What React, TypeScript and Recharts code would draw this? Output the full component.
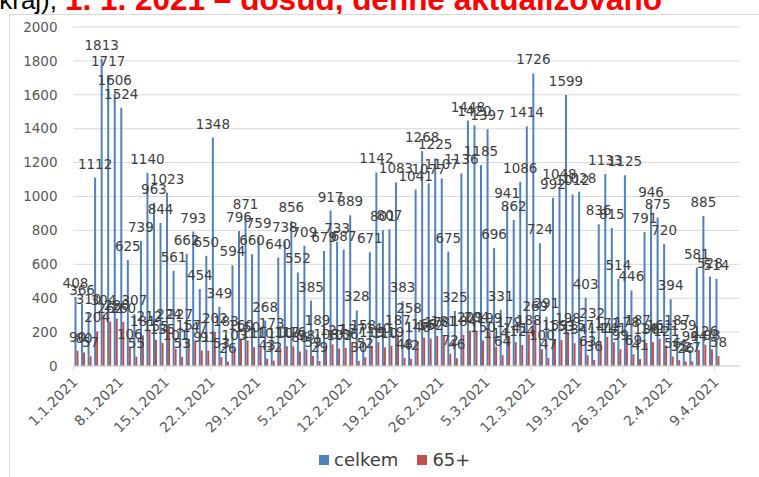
import React from 'react';
import { BarChart, Bar, XAxis, YAxis, CartesianGrid, LabelList, Legend } from 'recharts';

const dates = [
  '1.1.2021','2.1.2021','3.1.2021','4.1.2021','5.1.2021','6.1.2021','7.1.2021','8.1.2021','9.1.2021','10.1.2021',
  '11.1.2021','12.1.2021','13.1.2021','14.1.2021','15.1.2021','16.1.2021','17.1.2021','18.1.2021','19.1.2021','20.1.2021',
  '21.1.2021','22.1.2021','23.1.2021','24.1.2021','25.1.2021','26.1.2021','27.1.2021','28.1.2021','29.1.2021','30.1.2021',
  '31.1.2021','1.2.2021','2.2.2021','3.2.2021','4.2.2021','5.2.2021','6.2.2021','7.2.2021','8.2.2021','9.2.2021',
  '10.2.2021','11.2.2021','12.2.2021','13.2.2021','14.2.2021','15.2.2021','16.2.2021','17.2.2021','18.2.2021','19.2.2021',
  '20.2.2021','21.2.2021','22.2.2021','23.2.2021','24.2.2021','25.2.2021','26.2.2021','27.2.2021','28.2.2021','1.3.2021',
  '2.3.2021','3.3.2021','4.3.2021','5.3.2021','6.3.2021','7.3.2021','8.3.2021','9.3.2021','10.3.2021','11.3.2021',
  '12.3.2021','13.3.2021','14.3.2021','15.3.2021','16.3.2021','17.3.2021','18.3.2021','19.3.2021','20.3.2021','21.3.2021',
  '22.3.2021','23.3.2021','24.3.2021','25.3.2021','26.3.2021','27.3.2021','28.3.2021','29.3.2021','30.3.2021','31.3.2021',
  '1.4.2021','2.4.2021','3.4.2021','4.4.2021','5.4.2021','6.4.2021','7.4.2021','8.4.2021','9.4.2021',
];

const celkem = [
  408, 366, 310, 1112, 1813, 1717, 1606, 1524, 625, 307,
  739, 1140, 963, 844, 1023, 561, 227, 662, 793, 454,
  650, 1348, 349, 183, 594, 796, 871, 660, 759, 268,
  173, 640, 738, 856, 552, 709, 385, 189, 679, 917,
  733, 687, 889, 328, 158, 671, 1142, 801, 807, 1083,
  383, 258, 1041, 1268, 1077, 1225, 1107, 675, 325, 1136,
  1448, 1420, 1185, 1397, 696, 331, 941, 862, 1086, 1414,
  1726, 724, 291, 992, 1048, 1599, 1012, 1028, 403, 232,
  836, 1133, 815, 514, 1125, 446, 187, 791, 946, 875,
  720, 394, 187, 159, 94, 581, 885, 528, 514,
];

const senior = [
  90, 80, 57, 204, 304, 262, 280, 260, 106, 55,
  181, 212, 155, 135, 224, 101, 53, 157, 147, 91,
  91, 202, 53, 26, 103, 160, 150, 111, 110, 43,
  32, 110, 117, 116, 86, 98, 59, 29, 108, 127,
  103, 106, 137, 30, 52, 119, 140, 110, 119, 187,
  48, 42, 146, 168, 162, 178, 181, 72, 46, 184,
  209, 204, 150, 199, 114, 64, 179, 141, 124, 188,
  269, 100, 47, 159, 153, 198, 134, 157, 63, 36,
  141, 171, 141, 99, 178, 69, 41, 136, 141, 161,
  121, 56, 35, 26, 27, 94, 126, 98, 58,
];

const yTicks = [0, 200, 400, 600, 800, 1000, 1200, 1400, 1600, 1800, 2000];

const data = dates.map((d, i) => ({ date: d, celkem: celkem[i], senior: senior[i] }));

const BLUE = '#4F81BD';
const RED = '#C0504D';
const FONT = 'DejaVu Sans';

const DateTick = (props: any) => {
  const { x, y, payload } = props;
  return (
    <g transform={`translate(${x - 3.3},${y})`}>
      <line x1={0} x2={0} y1={0} y2={5} stroke="#d9d9d9" />
      <text
        x={0}
        y={0}
        transform="translate(5,17) rotate(-45)"
        textAnchor="end"
        fill="#595959"
        fontSize={14}
        fontFamily={FONT}
      >
        {payload.value}
      </text>
    </g>
  );
};

const LegendContent = () => (
  <div
    style={{
      display: 'flex',
      alignItems: 'center',
      fontFamily: FONT,
      fontSize: 18,
      color: '#404040',
      whiteSpace: 'nowrap',
    }}
  >
    <span style={{ display: 'inline-block', width: 10, height: 10, background: BLUE, marginRight: 5 }} />
    <span>celkem</span>
    <span style={{ display: 'inline-block', width: 10, height: 10, background: RED, marginLeft: 19, marginRight: 5 }} />
    <span>65+</span>
  </div>
);

export default function App() {
  return (
    <div
      style={{
        position: 'absolute',
        left: 0,
        top: 0,
        width: 759,
        height: 477,
        overflow: 'hidden',
        background: '#ffffff',
        fontFamily: FONT,
      }}
    >
      <div
        style={{
          position: 'absolute',
          left: -200,
          width: 257,
          top: -15,
          textAlign: 'right',
          fontFamily: 'Liberation Sans',
          fontSize: 26,
          lineHeight: '31px',
          color: '#000000',
          whiteSpace: 'nowrap',
        }}
      >
        kraj),
      </div>
      <div
        style={{
          position: 'absolute',
          left: 65,
          top: -16.5,
          fontFamily: 'Liberation Sans',
          fontWeight: 'bold',
          fontSize: 31.5,
          lineHeight: '31px',
          color: '#FF0000',
          whiteSpace: 'nowrap',
        }}
      >
        1. 1. 2021 – dosud, denně aktualizováno
      </div>
      <div
        style={{
          position: 'absolute',
          left: 9,
          top: 14,
          width: 800,
          height: 500,
          border: '1px solid #d9d9d9',
          boxSizing: 'border-box',
        }}
      />
      <div style={{ position: 'absolute', left: 0, top: 0 }}>
        <BarChart
          width={759}
          height={477}
          data={data}
          margin={{ top: 27, right: 19, bottom: 81, left: 0 }}
          barGap={0}
          barCategoryGap={0}
        >
          <CartesianGrid vertical={false} stroke="#d9d9d9" />
          <XAxis
            dataKey="date"
            interval={6}
            height={30}
            tickSize={0}
            tickMargin={0}
            tickLine={false}
            axisLine={{ stroke: '#d9d9d9' }}
            padding={{ left: 0, right: 19 }}
            tick={<DateTick />}
          />
          <YAxis
            width={73.5}
            domain={[0, 2000]}
            ticks={yTicks}
            interval={0}
            axisLine={false}
            tickLine={false}
            tickSize={0}
            tickMargin={16}
            tick={{ fill: '#595959', fontSize: 13.5, fontFamily: FONT }}
          />
          <Legend
            verticalAlign="middle"
            align="center"
            wrapperStyle={{ top: 449, left: 319, width: 200 }}
            content={<LegendContent />}
          />
          <Bar dataKey="celkem" name="celkem" fill={BLUE} barSize={2} isAnimationActive={false}>
            <LabelList dataKey="celkem" position="top" offset={9} fill="#404040" fontSize={13.5} fontFamily={FONT} />
          </Bar>
          <Bar dataKey="senior" name="65+" fill={RED} barSize={2} isAnimationActive={false}>
            <LabelList dataKey="senior" position="top" offset={9} fill="#404040" fontSize={13.5} fontFamily={FONT} />
          </Bar>
        </BarChart>
      </div>
    </div>
  );
}
